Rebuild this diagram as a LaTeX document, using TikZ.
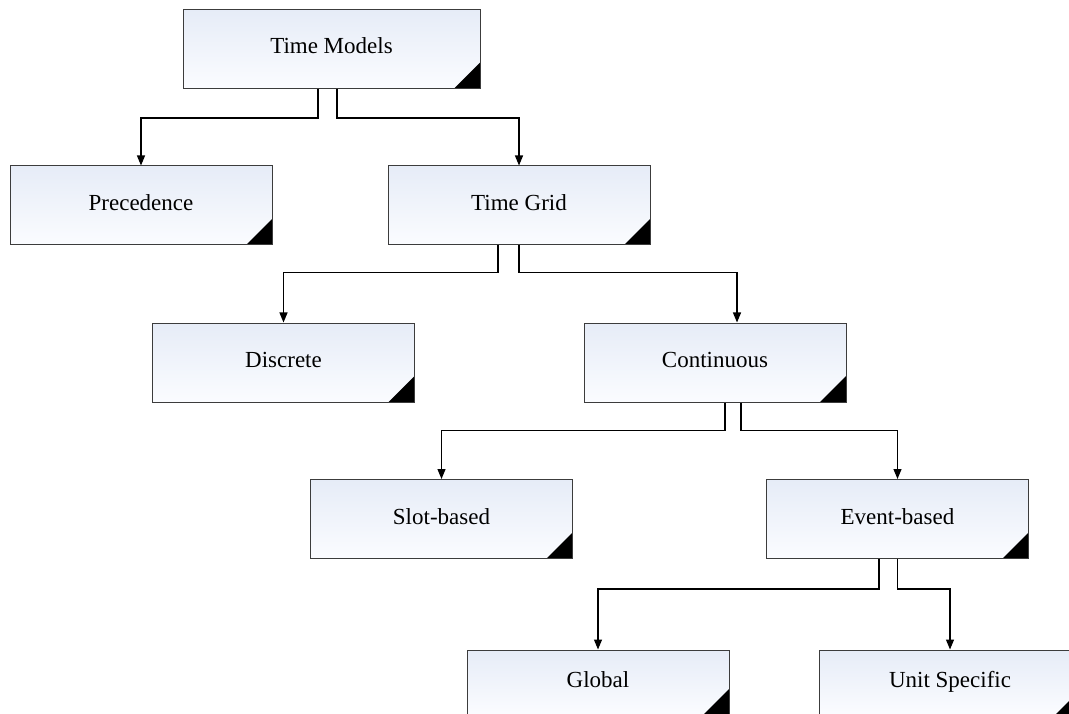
\documentclass[tikz,border=0pt]{standalone}
\usepackage{fontspec}
\setmainfont{Liberation Serif}
\usetikzlibrary{arrows.meta}

\definecolor{boxtop}{RGB}{230,236,247}
\definecolor{boxbot}{RGB}{251,252,255}
\definecolor{boxline}{RGB}{60,60,60}

\begin{document}
\begin{tikzpicture}[x=1pt,y=-1pt,>={Triangle[width=8pt,length=10pt]},
  line width=1.2pt]
  \tikzstyle{model}=[draw=boxline,line width=1pt,top color=boxtop,bottom color=boxbot,
    minimum width=262pt,minimum height=79pt,inner sep=0pt,
    text height=16pt,text depth=6pt,
    font=\fontsize{23}{27}\selectfont,
    path picture={\fill (path picture bounding box.south east) -- ++(-26pt,0pt)
      -- ++(26pt,26pt) -- cycle;}]
  \tikzstyle{link}=[->,draw=black]

  \useasboundingbox (0,0) rectangle (1069,714);

  \node[model,minimum width=297pt] (TM) at (331.5,49) {Time Models};
  \node[model] (Prec)   at (141,205.5)   {Precedence};
  \node[model] (TG)     at (519,205.5)   {Time Grid};
  \node[model] (Disc)   at (283.5,362.5) {Discrete};
  \node[model] (Cont)   at (715,362.5)   {Continuous};
  \node[model] (Slot)   at (441.5,519)   {Slot-based};
  \node[model] (Event)  at (897.5,519)   {Event-based};
  \node[model,minimum height=65pt] (Global) at (598,682.5) {Global};
  \node[model,minimum height=65pt] (Unit)   at (950,682.5) {Unit Specific};

  \draw[link] ([xshift=-13.5pt]TM.south) -- ++(0,29) -| (Prec.north);
  \draw[link] ([xshift=5.5pt]TM.south)   -- ++(0,29) -| (TG.north);
  \draw[link] ([xshift=-21pt]TG.south)   -- ++(0,27) -| (Disc.north);
  \draw[link] (TG.south)                 -- ++(0,27) -| ([xshift=22pt]Cont.north);
  \draw[link] ([xshift=10pt]Cont.south)  -- ++(0,28) -| (Slot.north);
  \draw[link] ([xshift=26pt]Cont.south)  -- ++(0,28) -| (Event.north);
  \draw[link] ([xshift=-18.5pt]Event.south) -- ++(0,30) -| (Global.north);
  \draw[link] (Event.south)              -- ++(0,30) -| (Unit.north);
\end{tikzpicture}
\end{document}
